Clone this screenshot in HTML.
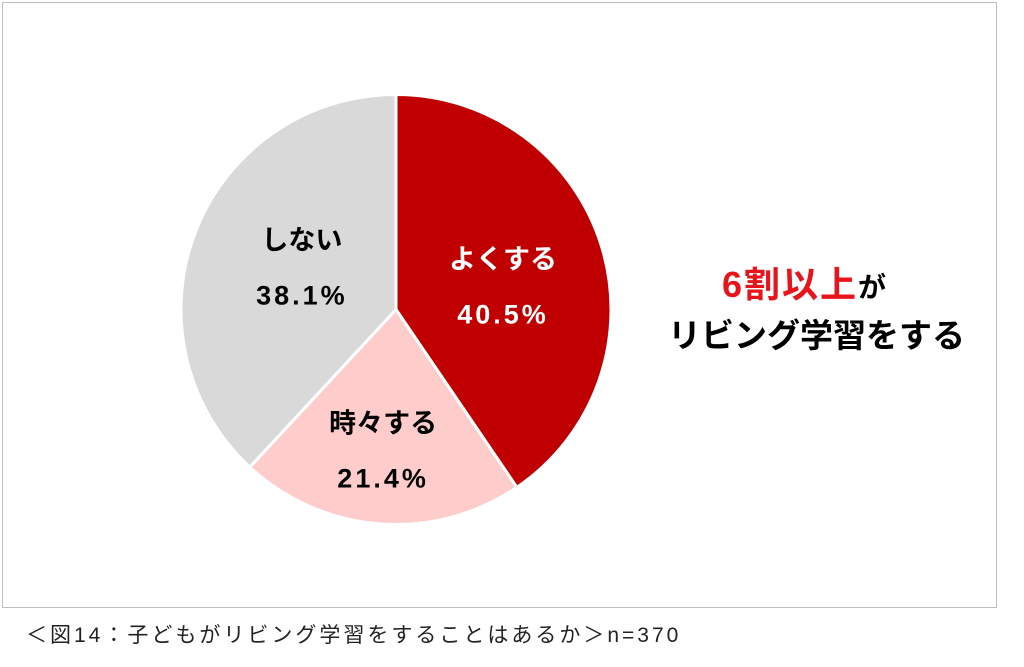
<!DOCTYPE html>
<html><head><meta charset="utf-8">
<style>
html,body{margin:0;padding:0;background:#fff;}
body{width:1024px;height:667px;position:relative;overflow:hidden;font-family:"Liberation Sans","Noto Sans CJK JP",sans-serif;}
#frame{position:absolute;left:2px;top:2px;width:995px;height:606px;border:1px solid #bfbfbf;box-sizing:border-box;}
#caption{position:absolute;left:26px;top:619px;font-size:21px;letter-spacing:3px;color:#222;white-space:nowrap;}
.callout{position:absolute;font-weight:bold;white-space:nowrap;}
</style></head><body>
<div id="frame"></div>
<svg id="pie" width="1024" height="667" style="position:absolute;left:0;top:0"></svg>
<div class="callout" style="left:722px;top:256px;font-size:36px;letter-spacing:2px;color:#000"><span style="color:#e8141c">6割以上</span><span style="font-size:28px">が</span></div>
<div class="callout" style="left:668px;top:309px;font-size:33px;color:#000">リビング学習をする</div>
<div id="caption">＜図14：子どもがリビング学習をすることはあるか＞n=370</div>
<script>
const categories = ["よくする","時々する","しない"];
const values = [40.5,21.4,38.1];
const colors = ["#c00000","#ffcccc","#d9d9d9"];
const textColors = ["#fff","#000","#000"];
const labelShift = [[-6,11],[-4,22],[16,0]];
const svg = document.getElementById('pie');
const NS = "http://www.w3.org/2000/svg";
const cx = 396, cy = 309.5, r = 215;
const total = values.reduce((a,b)=>a+b,0);
function pt(frac, rad){const a = frac*2*Math.PI - Math.PI/2; return [cx+rad*Math.cos(a), cy+rad*Math.sin(a)];}
let acc = 0;
values.forEach((v,i)=>{
  const f0 = acc/total, f1 = (acc+v)/total; acc += v;
  const [x0,y0] = pt(f0,r), [x1,y1] = pt(f1,r);
  const p = document.createElementNS(NS,'path');
  p.setAttribute('d',`M${cx},${cy} L${x0},${y0} A${r},${r} 0 ${f1-f0>0.5?1:0} 1 ${x1},${y1} Z`);
  p.setAttribute('fill',colors[i]);
  p.setAttribute('stroke','#fff');
  p.setAttribute('stroke-width','3');
  
  
  svg.appendChild(p);
  let [lx,ly] = pt((f0+f1)/2, r*0.55);
  lx += labelShift[i][0]; ly += labelShift[i][1];
  const t1 = document.createElementNS(NS,'text');
  t1.setAttribute('x',lx); t1.setAttribute('y',ly-17);
  t1.setAttribute('text-anchor','middle'); t1.setAttribute('font-size','27'); t1.setAttribute('font-weight','bold');
  t1.setAttribute('fill',textColors[i]);
  
  
  t1.textContent = categories[i];
  svg.appendChild(t1);
  const t2 = document.createElementNS(NS,'text');
  t2.setAttribute('x',lx); t2.setAttribute('y',ly+38);
  t2.setAttribute('text-anchor','middle'); t2.setAttribute('font-size','27'); t2.setAttribute('font-weight','bold');
  t2.setAttribute('letter-spacing','3');
  t2.setAttribute('fill',textColors[i]);
  
  
  t2.textContent = v.toFixed(1)+'%';
  svg.appendChild(t2);
});
</script>
</body></html>
